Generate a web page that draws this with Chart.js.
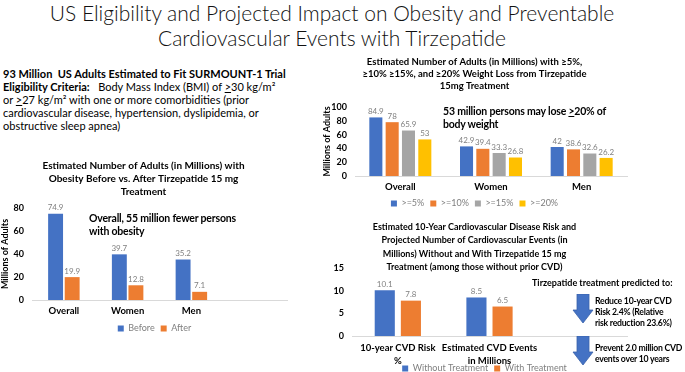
<!DOCTYPE html>
<html lang="en">
<head>
<meta charset="UTF-8">
<title>Tirzepatide eligibility and projected impact</title>
<script src="https://cdn.jsdelivr.net/npm/chart.js"></script>
<style>
  body { margin: 0; background: #fff; font-family: Lato, "Open Sans", sans-serif; color: #000; }
  #page { position: relative; width: 685px; height: 372px; overflow: hidden; }
  .abs { position: absolute; white-space: nowrap; }
  #mainTitle { left: 0; width: 664px; top: 0; text-align: center; font-size: 21px; font-weight: 300; line-height: 25px; color: #111; }
  #intro { left: 3px; top: 67px; font-size: 11px; line-height: 13px; }
  .note { font-weight: bold; font-size: 10.5px; line-height: 12.5px; letter-spacing: -0.2px; }
  .head { font-weight: bold; font-size: 9px; line-height: 11px; }
  .side { font-weight: bold; font-size: 8.7px; line-height: 11px; letter-spacing: -0.25px; }
  canvas { position: absolute; }
</style>
</head>
<body>
<div id="page">
  <div id="mainTitle" class="abs">US Eligibility and Projected Impact on Obesity and Preventable<br>Cardiovascular Events with Tirzepatide</div>
  <div id="intro" class="abs">
    <b>93 Million&nbsp; US Adults Estimated to Fit SURMOUNT-1 Trial</b><br>
    <b>Eligibility Criteria:</b>&nbsp;&nbsp; Body Mass Index (BMI) of <u>&gt;</u>30 kg/m²<br>
    or <u>&gt;</u>27 kg/m² with one or more comorbidities (prior<br>
    cardiovascular disease, hypertension, dyslipidemia, or<br>
    obstructive sleep apnea)
  </div>

  <canvas id="obesityChart" width="300" height="190" style="left:0;top:155px"></canvas>
  <canvas id="lossChart" width="382" height="166" style="left:300px;top:54px"></canvas>
  <canvas id="cvdChart" width="382" height="164" style="left:300px;top:220px"></canvas>

  <div class="abs note" style="left:89px;top:212px">Overall, 55 million fewer persons<br>with obesity</div>
  <div class="abs note" style="left:443px;top:105px">53 million persons may lose <u>&gt;</u>20% of<br>body weight</div>

  <div class="abs head" style="left:532px;top:277px">Tirzepatide treatment predicted to:</div>
  <svg class="abs" style="left:572px;top:294px" width="22" height="30"><polygon points="5,0 17,0 17,16 21,16 11,29 1,16 5,16" fill="#4472C4" stroke="#3a62ab" stroke-width="0.8"/></svg>
  <div class="abs side" style="left:595px;top:295px">Reduce 10-year CVD<br>Risk 2.4% (Relative<br>risk reduction 23.6%)</div>
  <svg class="abs" style="left:572px;top:336px" width="22" height="30"><polygon points="5,0 17,0 17,16 21,16 11,29 1,16 5,16" fill="#4472C4" stroke="#3a62ab" stroke-width="0.8"/></svg>
  <div class="abs side" style="left:595px;top:342px">Prevent 2.0 million CVD<br>events over 10 years</div>
</div>

<script>
// obesity before / after (millions)
const obesityGroups = ['Overall', 'Women', 'Men', ''];
const obesityBefore = [74.9, 39.7, 35.2, null];
const obesityAfter = [19.9, 12.8, 7.1, null];

// weight loss thresholds (millions)
const lossGroups = ['Overall', 'Women', 'Men'];
const loss5 = [84.9, 42.9, 42];
const loss10 = [78, 39.4, 38.6];
const loss15 = [65.9, 33.3, 32.6];
const loss20 = [53, 26.8, 26.2];

// cardiovascular outcomes
const cvdGroups = [['10-year CVD Risk', '%'], ['Estimated CVD Events', 'in Millions'], ''];
const cvdWithout = [10.1, 8.5, null];
const cvdWith = [7.8, 6.5, null];

const BLUE = '#4472C4', ORANGE = '#ED7D31', GRAY = '#A5A5A5', YELLOW = '#FFC000';
const FONT = 'Lato, "Open Sans", sans-serif';

Chart.defaults.font.family = FONT;
Chart.defaults.color = '#000';
Chart.defaults.animation = false;

// value labels above each bar
const valueLabels = {
  id: 'valueLabels',
  afterDatasetsDraw(chart) {
    const ctx = chart.ctx;
    ctx.save();
    ctx.font = '8px ' + FONT;
    ctx.fillStyle = '#808080';
    ctx.textAlign = 'center';
    ctx.textBaseline = 'bottom';
    chart.data.datasets.forEach((ds, i) => {
      chart.getDatasetMeta(i).data.forEach((bar, j) => {
        if (ds.data[j] == null) return;
        ctx.fillText(String(ds.data[j]), bar.x, bar.y - 2);
      });
    });
    ctx.restore();
  }
};

// nudge the legend sideways (the source legends are not centred on the plot)
const legendShift = {
  id: 'legendShift',
  afterLayout(chart, args, opts) {
    const dx = opts.dx || 0;
    chart.legend.left += dx;
    chart.legend.right += dx;
  }
};

function legendOpts() {
  return {
    position: 'bottom',
    labels: { boxWidth: 6, boxHeight: 6, padding: 6, color: '#7f7f7f', font: { size: 9 } }
  };
}

function xAxis(h, pad) {
  return {
    grid: { display: false, drawTicks: false },
    border: { color: '#d9d9d9' },
    ticks: { padding: pad, font: { size: 9.5, weight: 'bold', lineHeight: 1.3 }, maxRotation: 0, autoSkip: false },
    afterFit(s) {
      s.height = h;
      // two-line labels run past the fixed box, so don't clip them to it
      s._computeLabelArea = () => null;
    }
  };
}

function yAxis(max, step, w, title) {
  return {
    min: 0, max: max,
    grid: { display: false, drawTicks: false },
    border: { display: false },
    ticks: { stepSize: step, padding: 8, font: { size: 9, weight: 'bold' } },
    title: { display: !!title, text: title, padding: 0, font: { size: 9, weight: 'bold' } },
    afterFit(s) { s.width = w; }
  };
}

function ds(label, data, color) {
  return { label: label, data: data, backgroundColor: color };
}

new Chart(document.getElementById('obesityChart'), {
  type: 'bar',
  data: {
    labels: obesityGroups,
    datasets: [ds('Before', obesityBefore, BLUE), ds('After', obesityAfter, ORANGE)]
  },
  options: {
    responsive: false, devicePixelRatio: 1,
    categoryPercentage: 0.52, barPercentage: 0.9,
    layout: { padding: { left: 0, right: 13, bottom: 2 } },
    plugins: {
      title: {
        display: true,
        text: ['Estimated Number of Adults (in Millions) with', 'Obesity Before vs. After Tirzepatide 15 mg', 'Treatment'],
        font: { size: 10, weight: 'bold', lineHeight: 1.3 },
        padding: { top: 4, bottom: 10 }
      },
      legend: legendOpts(),
      legendShift: { dx: 11 },
      tooltip: { enabled: false }
    },
    scales: { x: xAxis(18, 5), y: yAxis(80, 20, 32, 'Millions of Adults') }
  },
  plugins: [valueLabels, legendShift]
});

new Chart(document.getElementById('lossChart'), {
  type: 'bar',
  data: {
    labels: lossGroups,
    datasets: [ds('>=5%', loss5, BLUE), ds('>=10%', loss10, ORANGE), ds('>=15%', loss15, GRAY), ds('>=20%', loss20, YELLOW)]
  },
  options: {
    responsive: false, devicePixelRatio: 1,
    categoryPercentage: 0.72, barPercentage: 0.8,
    layout: { padding: { left: 22, right: 55, bottom: 2 } },
    plugins: {
      title: {
        display: true,
        text: ['Estimated Number of Adults (in Millions) with ≥5%,', '≥10% ≥15%, and ≥20% Weight Loss from Tirzepatide', '15mg Treatment'],
        font: { size: 9.5, weight: 'bold', lineHeight: 12 / 9.5 },
        padding: { top: 2, bottom: 15 }
      },
      legend: legendOpts(),
      legendShift: { dx: 0 },
      tooltip: { enabled: false }
    },
    scales: { x: xAxis(17, 5), y: yAxis(100, 20, 33, 'Millions of Adults') }
  },
  plugins: [valueLabels, legendShift]
});

new Chart(document.getElementById('cvdChart'), {
  type: 'bar',
  data: {
    labels: cvdGroups,
    datasets: [ds('Without Treatment', cvdWithout, BLUE), ds('With Treatment', cvdWith, ORANGE)]
  },
  options: {
    responsive: false, devicePixelRatio: 1,
    categoryPercentage: 0.57, barPercentage: 0.77,
    layout: { padding: { left: 22, right: 55, bottom: 1 } },
    plugins: {
      title: {
        display: true,
        text: ['Estimated 10-Year Cardiovascular Disease Risk and', 'Projected Number of Cardiovascular Events (in', 'Millions) Without and With Tirzepatide 15 mg', 'Treatment (among those without prior CVD)'],
        font: { size: 9, weight: 'bold', lineHeight: 13.5 / 9 },
        padding: { top: 0, bottom: -6 }
      },
      legend: legendOpts(),
      legendShift: { dx: 10 },
      tooltip: { enabled: false }
    },
    scales: { x: xAxis(22, 6), y: yAxis(15, 5, 30, '') }
  },
  plugins: [valueLabels, legendShift]
});
</script>
</body>
</html>
